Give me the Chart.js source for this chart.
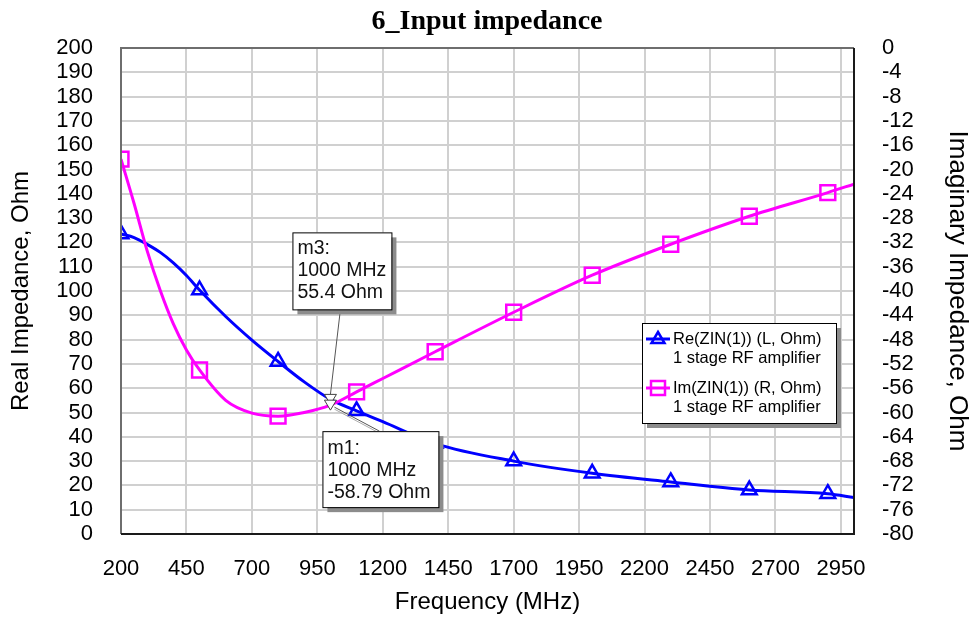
<!DOCTYPE html>
<html>
<head>
<meta charset="utf-8">
<script src="https://cdn.jsdelivr.net/npm/chart.js@4.4.0/dist/chart.umd.min.js"></script>
<style>
  html, body { margin: 0; padding: 0; background: #fff; }
</style>
</head>
<body>
<canvas id="chart" width="974" height="619"></canvas>
<script>
const freqs = [200, 250, 300, 350, 400, 450, 500, 600, 700, 800, 900, 1000, 1100, 1200, 1400, 1700, 2000, 2300, 2600, 2900, 3000];
//Re(ZIN(1)), Ohm - left axis
const reValues = [123.5, 122.0, 119.2, 115.9, 111.6, 106.4, 100.4, 89.5, 79.8, 71.0, 62.6, 55.4, 50.7, 46.2, 37.2, 30.0, 25.0, 21.4, 18.1, 16.6, 15.0];
//Im(ZIN(1)), Ohm - right axis
const imValues = [-18.3, -25.6, -33.4, -39.9, -45.4, -49.7, -53.0, -58.0, -60.1, -60.6, -60.0, -58.79, -56.6, -54.4, -50.0, -43.5, -37.4, -32.3, -27.7, -23.8, -22.4];
//frequencies that carry a symbol
const markerFreqs = [200, 500, 800, 1100, 1400, 1700, 2000, 2300, 2600, 2900];
//tick labels
const xTicks = [200, 450, 700, 950, 1200, 1450, 1700, 1950, 2200, 2450, 2700, 2950];
const leftTicks = [0, 10, 20, 30, 40, 50, 60, 70, 80, 90, 100, 110, 120, 130, 140, 150, 160, 170, 180, 190, 200];
const rightTicks = [-80, -76, -72, -68, -64, -60, -56, -52, -48, -44, -40, -36, -32, -28, -24, -20, -16, -12, -8, -4, 0];
//marker readouts
const markerFreq = 1000;
const m3Value = 55.4;
const m1Value = -58.79;
const m3Text = ["m3:", "1000 MHz", "55.4 Ohm"];
const m1Text = ["m1:", "1000 MHz", "-58.79 Ohm"];
const legendItems = [
  { color: "#0000ff", style: "triangle", lines: ["Re(ZIN(1)) (L, Ohm)", "1 stage RF amplifier"] },
  { color: "#ff00ff", style: "rect", lines: ["Im(ZIN(1)) (R, Ohm)", "1 stage RF amplifier"] },
];

const SANS = "'Liberation Sans', Arial, sans-serif";
const gridColor = "#d0d0d0";
const tickFont = { family: SANS, size: 22 };
const titleFont = { family: SANS, size: 24 };

const toPoints = (vals) => freqs.map((f, i) => ({ x: f, y: vals[i] }));
const markerRadius = (r) => (c) => markerFreqs.includes(freqs[c.dataIndex]) ? r : 0;
const setTicks = (list) => (s) => { s.ticks = list.map((v) => ({ value: v })); };

//boxed label with grey drop shadow
function drawBox(ctx, x, y, w, h, lines, font, lineGap, firstOffset) {
  ctx.fillStyle = "#8c8c8c";
  ctx.fillRect(x + 5, y + 5, w, h);
  ctx.fillStyle = "#fff";
  ctx.fillRect(x, y, w, h);
  ctx.strokeStyle = "#000";
  ctx.lineWidth = 1;
  ctx.strokeRect(x + 0.5, y + 0.5, w, h);
  ctx.fillStyle = "#111";
  ctx.font = font;
  ctx.textAlign = "left";
  ctx.textBaseline = "middle";
  lines.forEach((t, i) => ctx.fillText(t, x + 5, y + firstOffset + i * lineGap));
}

function smallTriangle(ctx, x, y) {
  ctx.beginPath();
  ctx.moveTo(x - 6, y - 5);
  ctx.lineTo(x + 6, y - 5);
  ctx.lineTo(x, y + 5);
  ctx.closePath();
  ctx.fillStyle = "#fff";
  ctx.fill();
  ctx.strokeStyle = "#404040";
  ctx.lineWidth = 1;
  ctx.stroke();
}

const overlay = {
  id: "overlay",
  afterDatasetsDraw(chart) {
    const { ctx, chartArea: a, scales } = chart;
    ctx.save();
    //plot frame
    ctx.lineWidth = 2;
    ctx.strokeStyle = "#6e6e6e";
    ctx.beginPath();
    ctx.moveTo(a.left, a.bottom); ctx.lineTo(a.left, a.top); ctx.lineTo(a.right, a.top);
    ctx.stroke();
    ctx.strokeStyle = "#1a1a1a";
    ctx.beginPath();
    ctx.moveTo(a.right, a.top); ctx.lineTo(a.right, a.bottom); ctx.lineTo(a.left, a.bottom);
    ctx.stroke();

    //markers m3 / m1
    const mx = scales.x.getPixelForValue(markerFreq);
    const y3 = scales.yRe.getPixelForValue(m3Value);
    const y1 = scales.yIm.getPixelForValue(m1Value);
    ctx.strokeStyle = "#555";
    ctx.lineWidth = 1;
    ctx.beginPath();
    ctx.moveTo(mx + 10, y3 - 90); ctx.lineTo(mx, y3 - 5);
    ctx.moveTo(mx + 49, y1 + 26); ctx.lineTo(mx + 4, y1 + 2);
    ctx.stroke();
    ctx.strokeStyle = "#aaa";
    ctx.beginPath();
    ctx.moveTo(mx + 49, y1 + 28); ctx.lineTo(mx + 4, y1 + 4);
    ctx.stroke();
    smallTriangle(ctx, mx, y3);
    smallTriangle(ctx, mx, y1);
    const boxFont = "19.5px " + SANS;
    drawBox(ctx, mx - 38, y3 - 167, 99, 77, m3Text, boxFont, 22, 16);
    drawBox(ctx, mx - 8, y1 + 26, 116, 76, m1Text, boxFont, 22, 17);

    //legend
    const lx = a.right - 212, ly = a.top + 275;
    drawBox(ctx, lx, ly, 194, 100, [], boxFont, 0, 0);
    ctx.font = "16.5px " + SANS;
    legendItems.forEach((it, i) => {
      const yy = ly + 16 + i * 49;
      ctx.strokeStyle = it.color;
      ctx.lineWidth = 3;
      ctx.beginPath();
      ctx.moveTo(lx + 4, yy); ctx.lineTo(lx + 28, yy);
      ctx.stroke();
      ctx.lineWidth = 2.5;
      ctx.beginPath();
      if (it.style === "triangle") {
        ctx.moveTo(lx + 16, yy - 7); ctx.lineTo(lx + 22.5, yy + 4); ctx.lineTo(lx + 9.5, yy + 4); ctx.closePath();
      } else {
        ctx.rect(lx + 9, yy - 7, 14, 14);
      }
      ctx.stroke();
      ctx.fillStyle = "#000";
      ctx.fillText(it.lines[0], lx + 31, yy);
      ctx.fillText(it.lines[1], lx + 31, yy + 19);
    });
    ctx.restore();
  },
};

new Chart(document.getElementById("chart"), {
  type: "line",
  plugins: [overlay],
  data: {
    datasets: [
      {
        label: "Re(ZIN(1)) (L, Ohm)",
        data: toPoints(reValues),
        yAxisID: "yRe",
        borderColor: "#0000ff",
        borderWidth: 3,
        pointStyle: "triangle",
        pointRadius: markerRadius(8.5),
        pointBorderWidth: 2.5,
        pointBorderColor: "#0000ff",
        pointBackgroundColor: "rgba(0,0,0,0)",
        cubicInterpolationMode: "monotone",
        order: 1,
      },
      {
        label: "Im(ZIN(1)) (R, Ohm)",
        data: toPoints(imValues),
        yAxisID: "yIm",
        borderColor: "#ff00ff",
        borderWidth: 3,
        pointStyle: "rect",
        pointRadius: markerRadius(10.5),
        pointBorderWidth: 2.5,
        pointBorderColor: "#ff00ff",
        pointBackgroundColor: "rgba(0,0,0,0)",
        cubicInterpolationMode: "monotone",
        order: 0,
      },
    ],
  },
  options: {
    responsive: false,
    animation: false,
    layout: { padding: 0 },
    plugins: {
      legend: { display: false },
      tooltip: { enabled: false },
      title: {
        display: true,
        text: "6_Input impedance",
        color: "#000",
        font: { family: "'Liberation Serif', 'Times New Roman', serif", size: 28, weight: "bold" },
        padding: { top: 5, bottom: 9.4 },
      },
    },
    scales: {
      x: {
        type: "linear",
        min: 200,
        max: 3000,
        afterBuildTicks: setTicks(xTicks),
        afterFit: (s) => { s.height = 85; },
        grid: { color: gridColor, lineWidth: 2, drawTicks: false },
        border: { display: false },
        ticks: { color: "#000", font: tickFont, padding: 22, maxRotation: 0, autoSkip: false, callback: (v) => String(v) },
        title: { display: true, text: "Frequency (MHz)", color: "#000", font: titleFont, padding: { top: 0, bottom: 2 } },
      },
      yRe: {
        position: "left",
        min: 0,
        max: 200,
        afterBuildTicks: setTicks(leftTicks),
        afterFit: (s) => { s.width = 121; },
        grid: { color: gridColor, lineWidth: 2, drawTicks: false },
        border: { display: false },
        ticks: { color: "#000", font: tickFont, padding: 28, autoSkip: false, callback: (v) => String(v) },
        title: { display: true, text: "Real Impedance, Ohm", color: "#000", font: titleFont, padding: { top: 7, bottom: 0 } },
      },
      yIm: {
        position: "right",
        min: -80,
        max: 0,
        afterBuildTicks: setTicks(rightTicks),
        afterFit: (s) => { s.width = 120; },
        grid: { display: false, drawTicks: false },
        border: { display: false },
        ticks: { color: "#000", font: tickFont, padding: 28, autoSkip: false, callback: (v) => String(v) },
        title: { display: true, text: "Imaginary Impedance, Ohm", color: "#000", font: { family: SANS, size: 26 }, padding: { top: 1, bottom: 0 } },
      },
    },
  },
});
</script>
</body>
</html>
